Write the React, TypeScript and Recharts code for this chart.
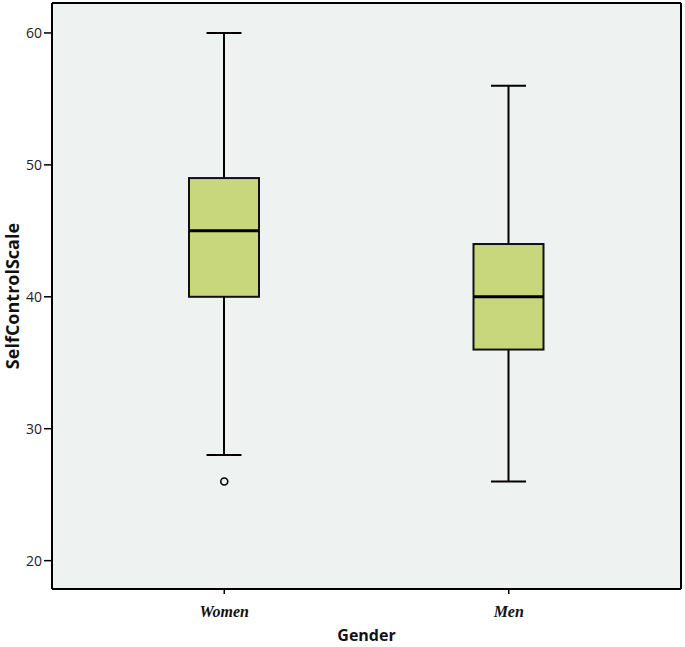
import React from 'react';
import {
  ComposedChart,
  Bar,
  Scatter,
  XAxis,
  YAxis,
  CartesianGrid,
} from 'recharts';

const groups = ['Women', 'Men'];
const whiskerLow = [28, 26];
const quartile1 = [40, 36];
const medians = [45, 40];
const quartile3 = [49, 44];
const whiskerHigh = [60, 56];
const outliers: (number | null)[] = [26, null];
const yTicks = [20, 30, 40, 50, 60];

const data = groups.map((g, i) => ({
  group: g,
  range: [whiskerLow[i], whiskerHigh[i]],
  q1: quartile1[i],
  median: medians[i],
  q3: quartile3[i],
  outlier: outliers[i],
}));

// draws the whole box + whiskers inside the bar's own [min,max] pixel range
const BoxShape = (props: any) => {
  const { x, y, width, height, payload } = props;
  const [lo, hi] = payload.range;
  const top = Math.min(y, y + height);
  const h = Math.abs(height);
  const pxPer = h / (hi - lo);
  const yOf = (v: number) => top + (hi - v) * pxPer;
  const cx = x + width / 2;
  const cap = width / 2;
  return (
    <g>
      <line x1={cx} x2={cx} y1={yOf(hi)} y2={yOf(payload.q3)} stroke="#000" strokeWidth={2} />
      <line x1={cx} x2={cx} y1={yOf(payload.q1)} y2={yOf(lo)} stroke="#000" strokeWidth={2} />
      <line x1={cx - cap / 2} x2={cx + cap / 2} y1={yOf(hi)} y2={yOf(hi)} stroke="#000" strokeWidth={2} />
      <line x1={cx - cap / 2} x2={cx + cap / 2} y1={yOf(lo)} y2={yOf(lo)} stroke="#000" strokeWidth={2} />
      <rect
        x={x}
        y={yOf(payload.q3)}
        width={width}
        height={yOf(payload.q1) - yOf(payload.q3)}
        fill="#c8d77c"
        stroke="#111"
        strokeWidth={2}
      />
      <line x1={x} x2={x + width} y1={yOf(payload.median)} y2={yOf(payload.median)} stroke="#000" strokeWidth={3} />
    </g>
  );
};

const OutlierDot = (props: any) => {
  const { cx, cy } = props;
  if (cx == null || cy == null || props.payload.outlier == null) return <g />;
  return <circle cx={cx} cy={cy} r={3.5} fill="none" stroke="#000" strokeWidth={1.6} />;
};

const App: React.FC = () => {
  return (
    <div style={{ position: 'absolute', left: 0, top: 0, background: '#fff' }}>
      <ComposedChart
        width={685}
        height={647}
        data={data}
        margin={{ top: 2, right: 3, left: 0, bottom: 0 }}
      >
        <CartesianGrid fill="#eef2f1" horizontal={false} vertical={false} />
        <XAxis
          dataKey="group"
          type="category"
          xAxisId="b"
          height={58}
          padding={{ left: 30, right: 30 }}
          axisLine={{ stroke: '#000', strokeWidth: 2 }}
          tickLine={{ stroke: '#000', strokeWidth: 1.5 }}
          tickSize={5}
          tickMargin={12}
          tick={{ fill: '#111', fontSize: 16, fontFamily: 'Liberation Serif', fontWeight: 'bold', fontStyle: 'italic' }}
          label={{
            content: ({ viewBox }: any) => (
              <text
                x={viewBox.x + viewBox.width / 2}
                y={635}
                textAnchor="middle"
                dominantBaseline="central"
                fontFamily="Open Sans"
                fontWeight="bold"
                fontSize={16}
                fill="#111"
              >
                Gender
              </text>
            ),
          }}
        />
        <XAxis dataKey="group" xAxisId="t" orientation="top" height={1} tick={false} tickLine={false}
          axisLine={{ stroke: '#000', strokeWidth: 2 }} padding={{ left: 30, right: 30 }} />
        <YAxis
          yAxisId="l"
          type="number"
          width={52}
          domain={[17.85, 62.27]}
          ticks={yTicks}
          allowDataOverflow
          axisLine={{ stroke: '#000', strokeWidth: 2 }}
          tickLine={{ stroke: '#000', strokeWidth: 1.5 }}
          tickSize={8}
          tickMargin={2}
          tick={{ fill: '#222', fontSize: 14, fontFamily: 'Open Sans' }}
          label={{
            content: ({ viewBox }: any) => (
              <text
                x={12}
                y={viewBox.y + viewBox.height / 2}
                transform={`rotate(-90, 12, ${viewBox.y + viewBox.height / 2})`}
                textAnchor="middle"
                dominantBaseline="central"
                fontFamily="Open Sans"
                fontWeight="bold"
                fontSize={18}
                fill="#111"
              >
                SelfControlScale
              </text>
            ),
          }}
        />
        <YAxis yAxisId="r" orientation="right" width={1} tick={false} tickLine={false}
          domain={[17.85, 62.27]} allowDataOverflow axisLine={{ stroke: '#000', strokeWidth: 2 }} />
        <Bar
          xAxisId="b"
          yAxisId="l"
          dataKey="range"
          barSize={70}
          shape={<BoxShape />}
          isAnimationActive={false}
        />
        <Scatter
          xAxisId="b"
          yAxisId="l"
          dataKey="outlier"
          shape={<OutlierDot />}
          isAnimationActive={false}
        />
      </ComposedChart>
    </div>
  );
};

export default App;
